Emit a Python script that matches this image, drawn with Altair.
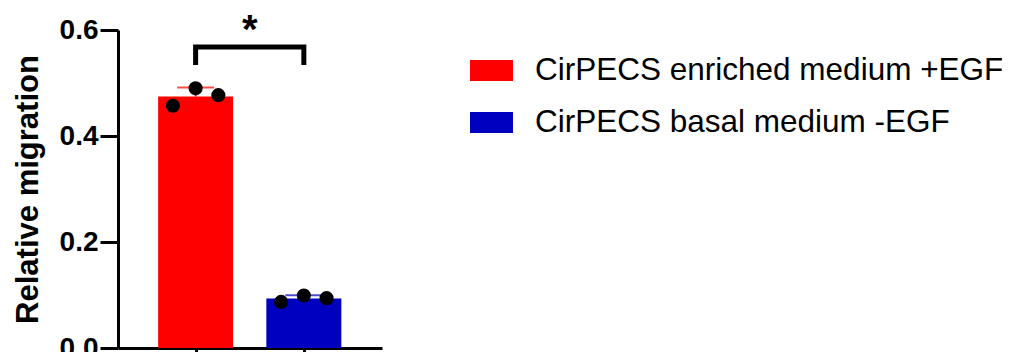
import altair as alt
import pandas as pd

groups = ["CirPECS enriched medium +EGF", "CirPECS basal medium -EGF"]
group_pos = [0, 1]
colors = ["#FF0000", "#0000C0"]
jitter = [-0.21, 0.0, 0.21]
enriched_values = [0.457, 0.490, 0.477]
basal_values = [0.087, 0.099, 0.094]
y_ticks = [0.0, 0.2, 0.4, 0.6]
bracket_low = 0.534
bracket_high = 0.568
star_y = 0.576
star_label = "*"

points = pd.DataFrame({
    "group": [groups[0]] * 3 + [groups[1]] * 3,
    "pos": [group_pos[0] + j for j in jitter] + [group_pos[1] + j for j in jitter],
    "value": enriched_values + basal_values,
})
summary = points.groupby("group", sort=False)["value"].agg(["mean", "std"]).reset_index()
summary["upper"] = summary["mean"] + summary["std"]
summary["pos"] = group_pos
summary["color"] = colors

bracket = pd.DataFrame({
    "pos": [group_pos[0], group_pos[0], group_pos[1], group_pos[1]],
    "y": [bracket_low, bracket_high, bracket_high, bracket_low],
    "order": [0, 1, 2, 3],
})
star = pd.DataFrame({"pos": [(group_pos[0] + group_pos[1]) / 2], "y": [star_y], "label": [star_label]})

FONT = "Liberation Sans"

xscale = alt.Scale(domain=[-0.671, 1.676], nice=False, zero=False)
xaxis = alt.Axis(values=group_pos, labels=False, title=None, grid=False,
                 tickSize=16, tickWidth=3, tickColor="black",
                 domainWidth=3, domainColor="black")
yscale = alt.Scale(domain=[0, 0.6], nice=False)
yaxis = alt.Axis(
    values=y_ticks, format=".1f", grid=False,
    labelFont=FONT, labelFontSize=28, labelFontWeight="bold", labelColor="black",
    labelPadding=2, tickSize=18, tickWidth=3, tickColor="black",
    domainWidth=3, domainColor="black",
    title="Relative migration", titleFont=FONT, titleFontSize=31,
    titleFontWeight="bold", titleColor="black", titleAngle=270,
    titleX=-81, titleY=159, titleAlign="center", titleBaseline="alphabetic",
)

X = alt.X("pos:Q", scale=xscale, axis=xaxis)

bars = alt.Chart(summary).mark_bar(width=75).encode(
    x=X,
    y=alt.Y("mean:Q", scale=yscale, axis=yaxis),
    color=alt.Color(
        "group:N", sort=groups,
        scale=alt.Scale(domain=groups, range=colors),
        legend=alt.Legend(
            title=None, orient="none", legendX=352, legendY=19,
            symbolType="M-1,-0.49H1V0.49H-1Z", symbolSize=1849,
            symbolStrokeWidth=0, symbolOpacity=1,
            labelFontSize=31.5, labelFont=FONT, labelColor="black",
            labelOffset=22, rowPadding=15, padding=0, labelLimit=0,
        ),
    ),
)

err_rule = alt.Chart(summary).mark_rule(strokeWidth=2).encode(
    x=X, y=alt.Y("mean:Q", scale=yscale), y2="upper:Q",
    color=alt.Color("color:N", scale=None),
)
err_cap = alt.Chart(summary).mark_tick(size=37, thickness=2, orient="horizontal").encode(
    x=X, y=alt.Y("upper:Q", scale=yscale),
    color=alt.Color("color:N", scale=None),
)
dots = alt.Chart(points).mark_circle(size=200, color="black", opacity=1).encode(
    x=X,
    y=alt.Y("value:Q", scale=yscale),
)
brk = alt.Chart(bracket).mark_line(
    strokeWidth=5, color="black", strokeJoin="miter", strokeCap="butt"
).encode(
    x=X, y=alt.Y("y:Q", scale=yscale), order="order:Q",
)
star_text = alt.Chart(star).mark_text(
    font=FONT, fontSize=40, fontWeight="bold", baseline="alphabetic",
    align="center", color="black",
).encode(
    x=X, y=alt.Y("y:Q", scale=yscale), text="label:N",
)

chart = alt.layer(bars, err_rule, err_cap, dots, brk, star_text).properties(
    width=264, height=318,
    autosize=alt.AutoSizeParams(type="none"),
    padding={"left": 110, "top": 22, "right": 620, "bottom": 4},
).configure_view(stroke=None).configure_legend(symbolOpacity=1)

chart.save("out.html", embed_options={"renderer": "svg", "actions": False})
